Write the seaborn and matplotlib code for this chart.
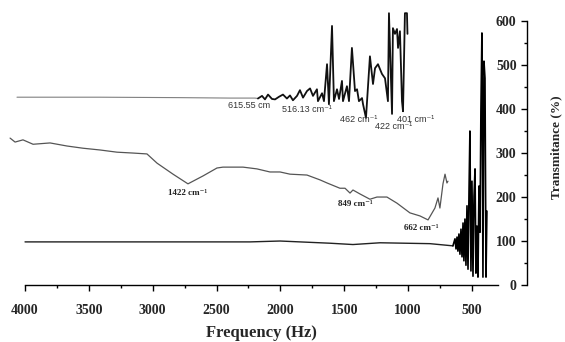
import numpy as np
import pandas as pd
import matplotlib
matplotlib.use("Agg")
import matplotlib.pyplot as plt
import seaborn as sns

# ---------------- data ----------------
top_freq = [4063, 3413, 2786, 2395, 2199, 2176, 2144, 2121, 2097, 2066, 2042, 2011,
            1980, 1949, 1925, 1902, 1870, 1847, 1823, 1792, 1768, 1745, 1714, 1706,
            1674, 1659, 1635, 1620, 1596, 1581, 1557, 1541, 1518, 1510, 1479, 1463,
            1440, 1416, 1400, 1385, 1361, 1353, 1330, 1299, 1275, 1259, 1236, 1205,
            1181, 1158, 1150, 1126, 1119, 1103, 1087, 1079, 1064, 1048, 1040, 1025,
            1009, 1005]
top_val = [427, 427, 426, 425, 425, 424, 430, 422, 433, 423, 422, 428,
           433, 424, 431, 420, 430, 443, 426, 441, 447, 430, 445, 418,
           436, 418, 502, 411, 589, 418, 445, 423, 464, 418, 452, 418,
           539, 441, 445, 418, 425, 411, 380, 520, 457, 493, 502, 480,
           470, 418, 618, 389, 584, 571, 582, 539, 577, 418, 395, 618,
           618, 571]

mid_freq = [4117, 4078, 4016, 3937, 3804, 3671, 3546, 3413, 3280, 3154, 3045, 2966,
            2841, 2724, 2606, 2497, 2450, 2293, 2184, 2082, 2003, 1925, 1792, 1690,
            1635, 1534, 1494, 1455, 1432, 1377, 1299, 1244, 1166, 1087, 986, 907,
            844, 790, 766, 751, 727, 711, 696, 688]
mid_val = [334, 325, 330, 320, 323, 316, 311, 307, 302, 300, 298, 277,
           252, 230, 248, 266, 268, 268, 264, 257, 257, 252, 250, 239,
           232, 220, 220, 209, 216, 207, 195, 200, 200, 186, 164, 157,
           148, 175, 198, 175, 230, 252, 232, 236]

bot_freq = [4000, 3021, 2238, 2003, 1612, 1432, 1220, 829, 649, 633, 625, 617,
            610, 602, 594, 586, 578, 570, 563, 555, 547, 539, 531, 523, 516, 508,
            500, 492, 484, 476, 469, 461, 453, 445, 437, 430, 422, 414, 406, 398,
            390, 383]
bot_val = [98, 98, 98, 100, 95, 92, 96, 94, 89, 105, 82, 109,
           77, 116, 70, 127, 64, 141, 55, 150, 45, 180, 36, 214, 350, 32,
           236, 20, 202, 264, 27, 134, 18, 225, 120, 395, 573, 18, 509, 470,
           18, 168]

x_ticks = [4000, 3500, 3000, 2500, 2000, 1500, 1000, 500]
y_ticks = [0, 100, 200, 300, 400, 500, 600]

top_labels = [("615.55 cm", 2410, 409), ("516.13 cm\u207b\u00b9", 1988, 398),
              ("462 cm\u207b\u00b9", 1534, 377), ("401 cm\u207b\u00b9", 1087, 377),
              ("422 cm\u207b\u00b9", 1260, 361)]
mid_labels = [("1422 cm\u207b\u00b9", 2880, 209), ("849 cm\u207b\u00b9", 1549, 184),
              ("662 cm\u207b\u00b9", 1032, 130)]

# ---------------- plotting ----------------
sns.set_theme(style="white")
plt.rcParams["font.family"] = ["Liberation Serif", "DejaVu Serif"]

fig = plt.figure(figsize=(5.65, 3.42), dpi=100)
ax = fig.add_axes([0.0, 57 / 342, 527 / 565, 285 / 342])

top = pd.DataFrame({"f": top_freq, "v": top_val})
mid = pd.DataFrame({"f": mid_freq, "v": mid_val})
bot = pd.DataFrame({"f": bot_freq, "v": bot_val})

sns.lineplot(data=top[top.f >= 2176], x="f", y="v", ax=ax, color="#808080",
             lw=0.8, estimator=None, sort=False)
sns.lineplot(data=top[top.f <= 2176], x="f", y="v", ax=ax, color="#111111",
             lw=1.3, estimator=None, sort=False)
sns.lineplot(data=mid, x="f", y="v", ax=ax, color="#555555", lw=0.9,
             estimator=None, sort=False)
sns.lineplot(data=bot[bot.f >= 649], x="f", y="v", ax=ax, color="#222222",
             lw=1.0, estimator=None, sort=False)
sns.lineplot(data=bot[bot.f <= 649], x="f", y="v", ax=ax, color="#000000",
             lw=1.2, estimator=None, sort=False)

ax.set_xlim(4196, 69)
ax.set_ylim(0, 648)

for s in ["top", "right"]:
    ax.spines[s].set_visible(False)
ax.spines["left"].set_position(("axes", 1.0))
ax.spines["left"].set_bounds(0, 600)
ax.spines["bottom"].set_bounds(4000, 296)
for s in ["left", "bottom"]:
    ax.spines[s].set_color("black")
    ax.spines[s].set_linewidth(1.0)

ax.set_xticks(x_ticks)
ax.set_xticklabels([str(t) for t in x_ticks], fontweight="bold", fontsize=10)
ax.set_xticks(np.arange(3750, 600, -500), minor=True)
ax.set_yticks(y_ticks)
ax.set_yticklabels([str(t) for t in y_ticks], fontweight="bold", fontsize=10)
ax.set_yticks(np.arange(50, 600, 100), minor=True)

ax.tick_params(axis="x", which="major", direction="out", length=4.5, width=1,
               pad=9, bottom=True, color="black")
ax.tick_params(axis="x", which="minor", direction="out", length=2.5, width=1,
               bottom=True, color="black")
ax.tick_params(axis="y", which="major", direction="out", length=4.5, width=1,
               pad=3, left=True, color="black")
ax.tick_params(axis="y", which="minor", direction="out", length=2.5, width=1,
               left=True, color="black")
ax.set_xlabel("")
ax.set_ylabel("")

for txt, fx, fy in top_labels:
    ax.text(fx, fy, txt, ha="left", va="center", fontsize=6.5, color="#333333",
            family=["Liberation Sans", "DejaVu Sans"])
for txt, fx, fy in mid_labels:
    ax.text(fx, fy, txt, ha="left", va="center", fontsize=6.5, color="#222222",
            fontweight="bold", family=["Liberation Serif", "DejaVu Serif"])

fig.text(261 / 565, 1 - 333 / 342, "Frequency (Hz)", ha="center", va="center",
         fontsize=12, fontweight="bold")
fig.text(556 / 565, 1 - 147 / 342, "Transmitance (%)", ha="center", va="center",
         rotation=90, fontsize=9.5, fontweight="bold")

fig.savefig("out.png", dpi=100, facecolor="white")
